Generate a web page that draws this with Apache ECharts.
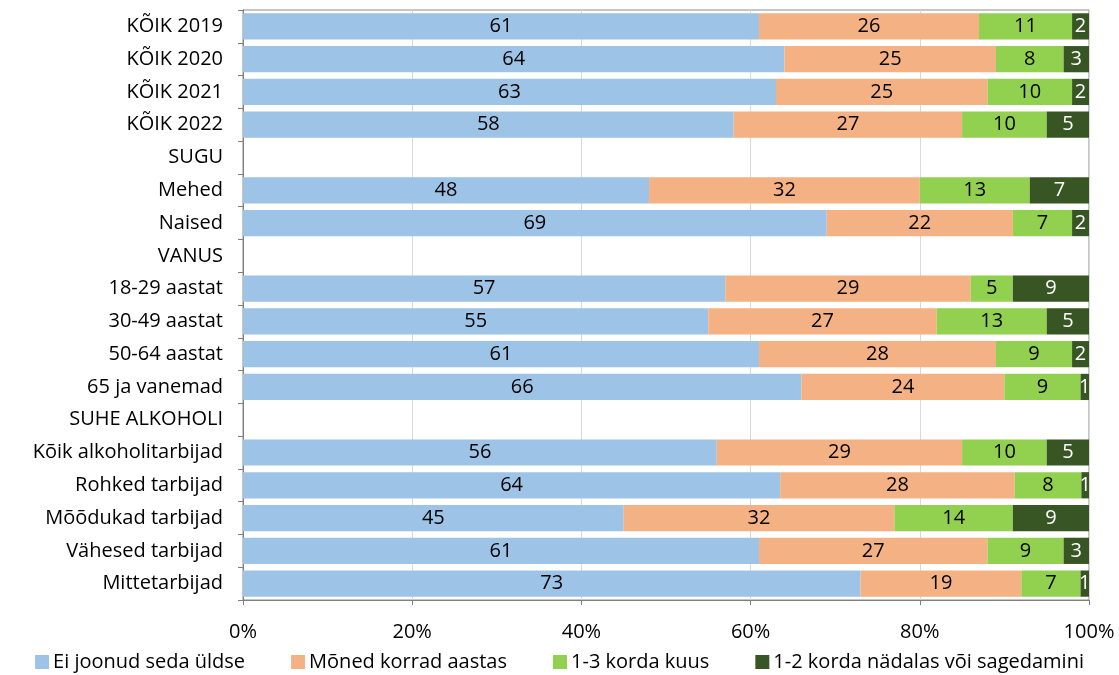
<!DOCTYPE html>
<html>
<head>
<meta charset="utf-8">
<script src="https://cdn.jsdelivr.net/npm/echarts@6/dist/echarts.min.js"></script>
<style>
  html, body { margin: 0; padding: 0; background: #ffffff; }
  #chart { width: 1119px; height: 675px; }
</style>
</head>
<body>
<div id="chart"></div>
<script>
// kategooriad (ülevalt alla)
const categories = [
  'KÕIK 2019', 'KÕIK 2020', 'KÕIK 2021', 'KÕIK 2022',
  'SUGU', 'Mehed', 'Naised',
  'VANUS', '18-29 aastat', '30-49 aastat', '50-64 aastat', '65 ja vanemad',
  'SUHE ALKOHOLI', 'Kõik alkoholitarbijad', 'Rohked tarbijad',
  'Mõõdukad tarbijad', 'Vähesed tarbijad', 'Mittetarbijad'
];

const seriesNames = [
  'Ei joonud seda üldse',
  'Mõned korrad aastas',
  '1-3 korda kuus',
  '1-2 korda nädalas või sagedamini'
];

// väärtused (%), pealkirjaread = null
const eiJoonud  = [61, 64, 63, 58, null, 48, 69, null, 57, 55, 61, 66, null, 56, 63.5, 45, 61, 73];
const monedKorrad = [26, 25, 25, 27, null, 32, 22, null, 29, 27, 28, 24, null, 29, 27.7, 32, 27, 19];
const kordaKuus = [11, 8, 10, 10, null, 13, 7, null, 5, 13, 9, 9, null, 10, 7.9, 14, 9, 7];
const kordaNadalas = [2, 3, 2, 5, null, 7, 2, null, 9, 5, 2, 1, null, 5, 0.9, 9, 3, 1];

const xTicks = [0, 20, 40, 60, 80, 100];

const colors = ['#9DC3E6', '#F4B183', '#92D050', '#375623'];
const labelColors = ['#000000', '#000000', '#000000', '#ffffff'];
const allData = [eiJoonud, monedKorrad, kordaKuus, kordaNadalas];

const fontFamily = '"Open Sans", Lato, sans-serif';

const chart = echarts.init(document.getElementById('chart'));

const option = {
  animation: false,
  textStyle: { fontFamily: fontFamily },
  grid: {
    left: 243,
    right: 30,
    top: 10,
    bottom: 75,
    show: true,
    borderColor: '#8c8c8c',
    borderWidth: 1,
    containLabel: false
  },
  legend: {
    bottom: -2,
    left: 'center',
    itemWidth: 14,
    itemHeight: 14,
    itemGap: 46,
    icon: 'rect',
    textStyle: { fontSize: 20, color: '#000', fontFamily: fontFamily, padding: [0, 0, 0, -1] },
    data: seriesNames
  },
  xAxis: {
    type: 'value',
    min: xTicks[0],
    max: xTicks[xTicks.length - 1],
    interval: 20,
    axisLine: { show: true, lineStyle: { color: '#7f7f7f', width: 1 } },
    axisTick: { show: true, length: 5, lineStyle: { color: '#7f7f7f' } },
    axisLabel: {
      formatter: v => v + '%',
      fontSize: 20,
      color: '#000',
      margin: 22
    },
    splitLine: { show: true, lineStyle: { color: '#d9d9d9', width: 1 } }
  },
  yAxis: {
    type: 'category',
    inverse: true,
    data: categories,
    axisLine: { show: true, lineStyle: { color: '#7f7f7f', width: 1 } },
    axisTick: { show: true, length: 5, lineStyle: { color: '#7f7f7f' } },
    axisLabel: { fontSize: 20, color: '#000', margin: 20 }
  },
  series: allData.map((d, i) => ({
    name: seriesNames[i],
    type: 'bar',
    stack: 'total',
    barCategoryGap: '20%',
    data: d,
    itemStyle: { color: colors[i] },
    label: {
      show: true,
      position: 'inside',
      color: labelColors[i],
      fontSize: 20,
      fontFamily: fontFamily,
      formatter: p => (p.value == null ? '' : Math.round(p.value))
    }
  }))
};

chart.setOption(option);
</script>
</body>
</html>
